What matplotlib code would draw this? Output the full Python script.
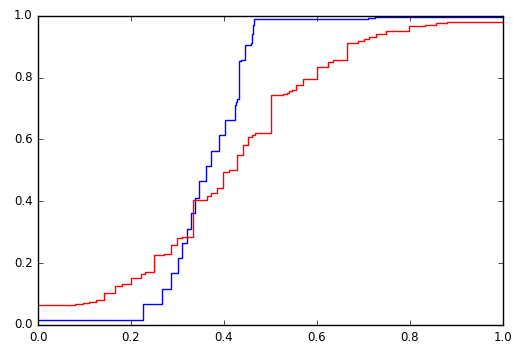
import matplotlib
matplotlib.use("Agg")
import matplotlib.pyplot as plt

blue_x = [0.0, 0.2265, 0.266, 0.287, 0.301, 0.309, 0.320, 0.330, 0.337, 0.347,
          0.362, 0.373, 0.390, 0.402, 0.423, 0.425, 0.427, 0.432, 0.437, 0.445,
          0.458, 0.461, 0.463, 0.465, 0.700, 0.710, 0.725, 1.0]
blue_y = [0.017, 0.067, 0.117, 0.167, 0.217, 0.266, 0.310, 0.362, 0.410, 0.464,
          0.514, 0.564, 0.614, 0.663, 0.712, 0.720, 0.730, 0.852, 0.857, 0.906,
          0.912, 0.940, 0.970, 0.988, 0.989, 0.992, 0.995, 0.995]

red_x = [0.0, 0.080, 0.097, 0.110, 0.125, 0.142, 0.166, 0.180, 0.199, 0.2215,
         0.230, 0.2495, 0.272, 0.285, 0.2996, 0.309, 0.3326, 0.3627, 0.373,
         0.384, 0.3985, 0.411, 0.4286, 0.4415, 0.4523, 0.4595, 0.4667, 0.5004,
         0.5276, 0.535, 0.5405, 0.546, 0.555, 0.5706, 0.599, 0.6244, 0.635,
         0.665, 0.689, 0.701, 0.7125, 0.726, 0.749, 0.7985, 0.832, 0.856,
         0.879, 0.900, 1.0]
red_y = [0.065, 0.067, 0.070, 0.075, 0.082, 0.103, 0.126, 0.134, 0.151, 0.164,
         0.171, 0.226, 0.231, 0.259, 0.281, 0.286, 0.403, 0.418, 0.428,
         0.444, 0.496, 0.500, 0.548, 0.583, 0.607, 0.614, 0.619, 0.742,
         0.746, 0.751, 0.756, 0.761, 0.777, 0.794, 0.835, 0.849, 0.857,
         0.913, 0.918, 0.923, 0.931, 0.939, 0.950, 0.966, 0.971, 0.975,
         0.978, 0.980, 0.980]

plt.style.use("classic")
fig = plt.figure(figsize=(5.23, 3.56), dpi=100)
ax = fig.add_axes([0.0727, 0.0871, 0.889, 0.869])
ax.step(blue_x, blue_y, where="post", color="b", lw=1.0)
ax.step(red_x, red_y, where="post", color="r", lw=1.0)
ax.set_xlim(0, 1)
ax.set_ylim(0, 1)
ax.set_xticks([0.0, 0.2, 0.4, 0.6, 0.8, 1.0])
ax.set_yticks([0.0, 0.2, 0.4, 0.6, 0.8, 1.0])
ax.tick_params(labelsize=8.5, length=3.6, pad=4)
fig.savefig("out.png", dpi=100)
